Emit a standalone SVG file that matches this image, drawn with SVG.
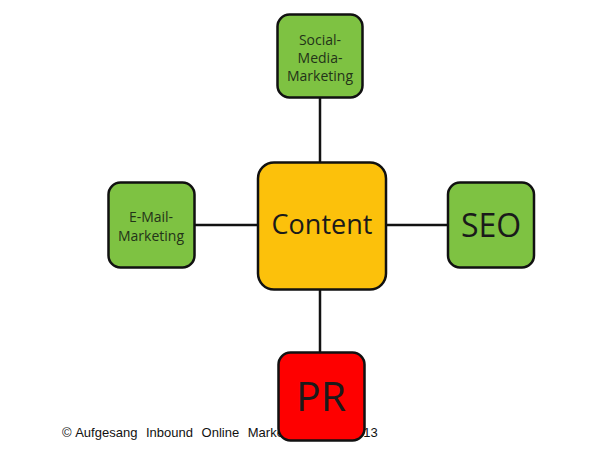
<svg xmlns="http://www.w3.org/2000/svg" width="595" height="467" viewBox="0 0 595 467">
<style>
.box{stroke:#111;stroke-width:2.5}
.g{fill:#7ec242}
.lbl{font-family:"Open Sans","Noto Sans",sans-serif;fill:#1a1a1a;text-anchor:middle}
.sm{fill:#233319}
.con{stroke:#111;stroke-width:2.5;fill:none}
.copy{font-family:"Liberation Sans",Arial,sans-serif;font-size:13px;fill:#111}
.ws{word-spacing:5px}
</style>
<rect width="595" height="467" fill="#fff"/>
<g id="connectors">
<line class="con" x1="320" y1="97" x2="320" y2="162"/>
<line class="con" x1="195" y1="225" x2="258" y2="225"/>
<line class="con" x1="386" y1="225" x2="447" y2="225"/>
<line class="con" x1="320" y1="290" x2="320" y2="352"/>
</g>
<text class="copy" x="62" y="437">© <tspan class="ws">Aufgesang Inbound Online Marketing GbR 2013</tspan></text>
<g id="social">
<rect class="box g" x="277.5" y="14.5" width="85" height="83" rx="12"/>
<text class="lbl sm" font-size="14" x="320" y="45">Social-</text>
<text class="lbl sm" font-size="14" x="320" y="63">Media-</text>
<text class="lbl sm" font-size="14" x="320" y="81">Marketing</text>
</g>
<g id="email">
<rect class="box g" x="108.5" y="182.5" width="86" height="85" rx="12"/>
<text class="lbl sm" font-size="14" x="151" y="222">E-Mail-</text>
<text class="lbl sm" font-size="14" x="151" y="241">Marketing</text>
</g>
<g id="content">
<rect class="box" fill="#fcc10b" x="258" y="162.5" width="128" height="127" rx="16"/>
<text class="lbl" font-size="27" x="322" y="234">Content</text>
</g>
<g id="seo">
<rect class="box g" x="448" y="182.5" width="86" height="85" rx="12"/>
<text class="lbl" font-size="32" x="491" y="237">SEO</text>
</g>
<g id="pr">
<rect class="box" fill="#fe0000" x="278.5" y="352.5" width="86" height="88" rx="12"/>
<text class="lbl" font-size="41" x="321" y="411">PR</text>
</g>
</svg>
